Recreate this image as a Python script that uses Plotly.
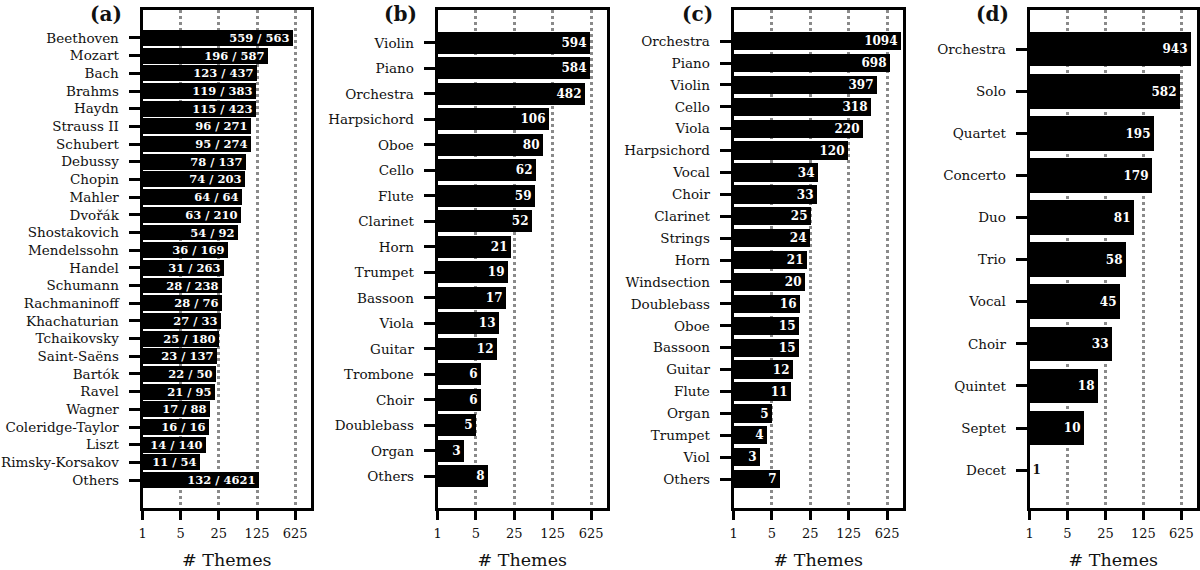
import plotly.graph_objects as go

# ---------------- data ----------------
composers = ["Beethoven", "Mozart", "Bach", "Brahms", "Haydn", "Strauss II", "Schubert",
             "Debussy", "Chopin", "Mahler", "Dvořák", "Shostakovich", "Mendelssohn", "Handel",
             "Schumann", "Rachmaninoff", "Khachaturian", "Tchaikovsky", "Saint-Saëns", "Bartók",
             "Ravel", "Wagner", "Coleridge-Taylor", "Liszt", "Rimsky-Korsakov", "Others"]
composer_themes = [559, 196, 123, 119, 115, 96, 95, 78, 74, 64, 63, 54, 36, 31, 28, 28, 27,
                   25, 23, 22, 21, 17, 16, 14, 11, 132]
composer_totals = [563, 587, 437, 383, 423, 271, 274, 137, 203, 64, 210, 92, 169, 263, 238,
                   76, 33, 180, 137, 50, 95, 88, 16, 140, 54, 4621]

instruments_b = ["Violin", "Piano", "Orchestra", "Harpsichord", "Oboe", "Cello", "Flute",
                 "Clarinet", "Horn", "Trumpet", "Bassoon", "Viola", "Guitar", "Trombone",
                 "Choir", "Doublebass", "Organ", "Others"]
values_b = [594, 584, 482, 106, 80, 62, 59, 52, 21, 19, 17, 13, 12, 6, 6, 5, 3, 8]

instruments_c = ["Orchestra", "Piano", "Violin", "Cello", "Viola", "Harpsichord", "Vocal",
                 "Choir", "Clarinet", "Strings", "Horn", "Windsection", "Doublebass", "Oboe",
                 "Bassoon", "Guitar", "Flute", "Organ", "Trumpet", "Viol", "Others"]
values_c = [1094, 698, 397, 318, 220, 120, 34, 33, 25, 24, 21, 20, 16, 15, 15, 12, 11, 5, 4, 3, 7]

ensembles_d = ["Orchestra", "Solo", "Quartet", "Concerto", "Duo", "Trio", "Vocal", "Choir",
               "Quintet", "Septet", "Decet"]
values_d = [943, 582, 195, 179, 81, 58, 45, 33, 18, 10, 1]

tick_vals = [1, 5, 25, 125, 625]
tick_text = ["1", "5", "25", "125", "625"]
panel_titles = ["(a)", "(b)", "(c)", "(d)"]
x_title = "# Themes"

# ---------------- layout geometry ----------------
W, H = 1200, 570
FONT = "DejaVu Serif"
TXT = "#111111"

panel_x = [(139, 308), (435, 605), (732, 902), (1029, 1197)]   # screen pixels
top_px, bot_px = 10, 508
yranges = [(len(composers) - 1 + 1.58, -1.58),
           (len(instruments_b) - 1 + 1.24, -1.29),
           (len(instruments_c) - 1 + 1.32, -1.42),
           (len(ensembles_d) - 1 + 0.90, -0.93)]
bar_widths = [0.9, 0.86, 0.84, 0.82]


def px_x(p):
    return p / W


def px_y(p):
    return 1 - p / H


fig = go.Figure()

panels = [
    (composers, composer_themes, [f"{a} / {b}" for a, b in zip(composer_themes, composer_totals)], 11.5),
    (instruments_b, values_b, [str(v) for v in values_b], 12),
    (instruments_c, values_c, [str(v) for v in values_c], 12),
    (ensembles_d, values_d, [str(v) for v in values_d], 12),
]

for i, (cats, vals, labels, tsize) in enumerate(panels):
    ax = "" if i == 0 else str(i + 1)
    positions = ["outside" if v <= 1 else "inside" for v in vals]
    colors = [TXT if v <= 1 else "white" for v in vals]
    fig.add_trace(go.Bar(
        x=vals, y=cats, orientation="h",
        xaxis="x" + ax, yaxis="y" + ax,
        marker=dict(color="black", line=dict(width=0)),
        width=bar_widths[i],
        text=["<b>" + t + "</b>" for t in labels],
        textposition=positions,
        insidetextanchor="end",
        textangle=0,
        textfont=dict(family=FONT, size=tsize, color=colors),
        outsidetextfont=dict(family=FONT, size=tsize, color=TXT),
        constraintext="none",
        cliponaxis=False,
        showlegend=False,
        hoverinfo="x+y",
    ))
    x0, x1 = panel_x[i]
    xaxis = dict(
        type="log", range=[0, 3.085],
        domain=[px_x(x0), px_x(x1)],
        anchor="y" + ax,
        tickvals=tick_vals, ticktext=tick_text,
        ticks="outside", ticklen=9, tickwidth=3, tickcolor="black",
        showline=True, linewidth=3, linecolor="black", mirror=True,
        showgrid=True, gridcolor="#8a8a8a", gridwidth=2.5, griddash="dot",
        tickfont=dict(family=FONT, size=13, color=TXT),
        ticklabelstandoff=2,
        title=dict(text=x_title, font=dict(family=FONT, size=17.5, color=TXT), standoff=16),
        zeroline=False, fixedrange=True,
    )
    yaxis = dict(
        type="category",
        categoryorder="array", categoryarray=cats,
        range=list(yranges[i]),
        domain=[px_y(bot_px), px_y(top_px)],
        anchor="x" + ax,
        ticks="outside", ticklen=11, tickwidth=3, tickcolor="black",
        ticklabelstandoff=7,
        showline=True, linewidth=3, linecolor="black", mirror=True,
        showgrid=False,
        tickfont=dict(family=FONT, size=13.5, color=TXT),
        fixedrange=True,
    )
    fig.layout["xaxis" + ax] = xaxis
    fig.layout["yaxis" + ax] = yaxis
    fig.add_annotation(
        text="<b>" + panel_titles[i] + "</b>",
        xref="paper", yref="paper",
        x=px_x(x0 - 19), y=px_y(14),
        xanchor="right", yanchor="middle",
        showarrow=False,
        font=dict(family=FONT, size=20, color=TXT),
    )

fig.update_layout(
    width=W, height=H,
    margin=dict(l=0, r=0, t=0, b=0),
    paper_bgcolor="white", plot_bgcolor="white",
    bargap=0,
)

fig.write_html("out.html",
               config={"displayModeBar": False},
               post_script="document.body.style.margin='0px';document.body.style.overflow='hidden';")
